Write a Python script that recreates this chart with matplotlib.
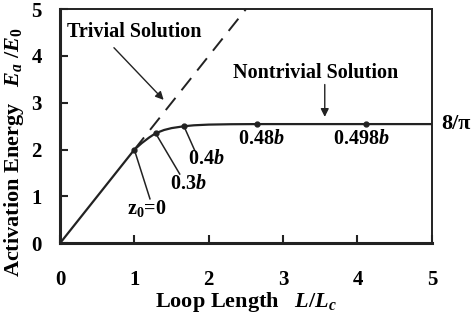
import matplotlib
matplotlib.use("Agg")
import matplotlib.pyplot as plt
import numpy as np

# data
lin_x = [0.0, 1.0]
lin_y = [0.0, 2.0]
triv_x = [1.0, 2.5]
triv_y = [2.0, 5.0]
curve_x = [1.0, 1.1, 1.2, 1.286, 1.4, 1.5, 1.667, 1.8, 2.0, 2.3, 2.65, 3.0, 4.11, 5.0]
curve_y = [2.0, 2.14, 2.26, 2.35, 2.42, 2.46, 2.50, 2.52, 2.535, 2.543, 2.546, 2.546, 2.546, 2.546]
pt_x = [1.0, 1.286, 1.667, 2.65, 4.11]
pt_y = [2.0, 2.35, 2.50, 2.546, 2.546]
pt_labels = ["z$_0$=0", "0.3$\\mathit{b}$", "0.4$\\mathit{b}$", "0.48$\\mathit{b}$", "0.498$\\mathit{b}$"]
plateau = 8 / np.pi
xticks = [0, 1, 2, 3, 4, 5]
yticks = [0, 1, 2, 3, 4, 5]

plt.rcParams['font.family'] = ['Liberation Serif']
plt.rcParams['font.weight'] = 'bold'
plt.rcParams['mathtext.fontset'] = 'custom'
plt.rcParams['mathtext.rm'] = 'Liberation Serif:bold'
plt.rcParams['mathtext.it'] = 'Liberation Serif:bold:italic'
plt.rcParams['mathtext.bf'] = 'Liberation Serif:bold'

C = '#222222'
fig = plt.figure(figsize=(4.72, 3.16), dpi=100)
ax = fig.add_axes([0.127, 0.230, 0.788, 0.741])

ax.plot(lin_x, lin_y, color=C, lw=1.6)
ax.plot(triv_x, triv_y, color=C, lw=1.4, dashes=(8, 5))
ax.plot(curve_x, curve_y, color=C, lw=1.6)
ax.plot(pt_x, pt_y, 'o', color=C, ms=3.5)

ax.set_xlim(0, 5)
ax.set_ylim(0, 5)
ax.set_xticks(xticks)
ax.set_yticks(yticks)
ax.tick_params(direction='in', length=6, width=1.5, color=C, labelsize=15)
ax.tick_params(axis='x', pad=19)
ax.tick_params(axis='y', pad=13)
for lab in ax.get_xticklabels() + ax.get_yticklabels():
    lab.set_fontweight('bold')
for s in ['left', 'bottom']:
    ax.spines[s].set_linewidth(2.2)
for s in ['top', 'right']:
    ax.spines[s].set_linewidth(1.4)
for s in ax.spines.values():
    s.set_color(C)

ax.set_xlabel("Loop Length   $\\mathit{L/L_c}$", fontsize=16, fontweight='bold', labelpad=0)
ax.set_ylabel("Activation Energy   $\\mathit{E_a}$ /$\\mathit{E}_0$", fontsize=16, fontweight='bold')
ax.yaxis.set_label_coords(-0.09, 0.39)

fs = 14.5
ax.text(0.09, 4.52, "Trivial Solution", fontsize=fs, fontweight='bold', va='center', ha='left')
ax.annotate("", xy=(1.42, 3.02), xytext=(0.70, 4.22),
            arrowprops=dict(arrowstyle='-|>', color=C, lw=1.0, mutation_scale=12))
ax.text(2.33, 3.64, "Nontrivial Solution", fontsize=fs, fontweight='bold', va='center', ha='left')
ax.annotate("", xy=(3.56, 2.64), xytext=(3.56, 3.45),
            arrowprops=dict(arrowstyle='-|>', color=C, lw=1.0, mutation_scale=12))

# leader lines and labels
ax.plot([pt_x[0], 1.21], [pt_y[0], 0.95], color=C, lw=1.1)
ax.plot([pt_x[1], 1.61], [pt_y[1], 1.48], color=C, lw=1.1)
ax.plot([pt_x[2], 1.81], [pt_y[2], 1.99], color=C, lw=1.1)
ax.text(0.90, 0.74, pt_labels[0], fontsize=fs, fontweight='bold', va='center', ha='left')
ax.text(1.48, 1.27, pt_labels[1], fontsize=fs, fontweight='bold', va='center', ha='left')
ax.text(1.72, 1.80, pt_labels[2], fontsize=fs, fontweight='bold', va='center', ha='left')
ax.text(2.39, 2.22, pt_labels[3], fontsize=fs, fontweight='bold', va='center', ha='left')
ax.text(3.67, 2.22, pt_labels[4], fontsize=fs, fontweight='bold', va='center', ha='left')
ax.text(5.12, plateau, "8/\u03c0", fontsize=16, fontweight='bold', va='center', ha='left')

fig.savefig("out.png", dpi=100)
